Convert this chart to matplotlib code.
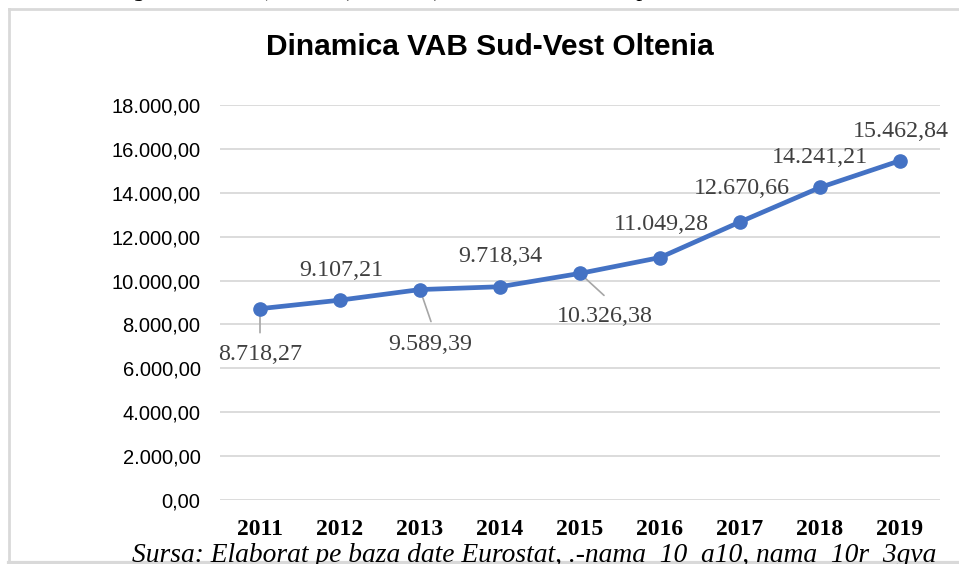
import matplotlib
matplotlib.use("Agg")
import matplotlib.pyplot as plt
from matplotlib.lines import Line2D

years = ["2011", "2012", "2013", "2014", "2015", "2016", "2017", "2018", "2019"]
values = [8718.27, 9107.21, 9589.39, 9718.34, 10326.38, 11049.28, 12670.66, 14241.21, 15462.84]
value_labels = ["8.718,27", "9.107,21", "9.589,39", "9.718,34", "10.326,38",
                "11.049,28", "12.670,66", "14.241,21", "15.462,84"]
ytick_vals = [0, 2000, 4000, 6000, 8000, 10000, 12000, 14000, 16000, 18000]
ytick_labels = ["0,00", "2.000,00", "4.000,00", "6.000,00", "8.000,00",
                "10.000,00", "12.000,00", "14.000,00", "16.000,00", "18.000,00"]

W, H = 959, 564
fig = plt.figure(figsize=(W / 100, H / 100), dpi=100)
fig.patch.set_facecolor("white")

# chart border (light gray)
fig.add_artist(Line2D([9 / W, 9 / W], [0, 1 - 9 / H], transform=fig.transFigure,
                      color="#d9d9d9", lw=2))
fig.add_artist(Line2D([9 / W, 1], [1 - 9 / H, 1 - 9 / H], transform=fig.transFigure,
                      color="#d9d9d9", lw=2))
fig.add_artist(Line2D([9 / W, 1], [1.5 / H, 1.5 / H], transform=fig.transFigure,
                      color="#d9d9d9", lw=3))

ax = fig.add_axes([220 / W, (H - 500) / H, 720 / W, 395 / H])
ax.set_xlim(-0.5, len(years) - 0.5)
ax.set_ylim(0, 18000)
for s in ax.spines.values():
    s.set_visible(False)
ax.set_yticks(ytick_vals)
ax.set_yticklabels(ytick_labels, fontsize=14.5, family="Liberation Sans", color="#000000")
ax.tick_params(axis="y", length=0, pad=14)
ax.set_xticks(range(len(years)))
ax.set_xticklabels(years, fontsize=17, family="Liberation Serif", fontweight="bold")
ax.tick_params(axis="x", length=0, pad=14)
ax.grid(axis="y", color="#d9d9d9", lw=1.3)
ax.set_axisbelow(True)

x = list(range(len(years)))
ax.plot(x, values, color="#4472C4", lw=3.4, marker="o", markersize=9.5, zorder=3)

# label offsets in pixels (dx, dy) and leader line end points
offsets = [(0, -46), (1, 30), (10, -55), (0, 30), (25, -43), (1, 33), (2, 33), (0, 30), (1, 29)]
leaders = [(0, -24), None, (11, -32), None, (24, -22), None, None, None, None]
for i, (v, lab) in enumerate(zip(values, value_labels)):
    dx, dy = offsets[i]
    ax.annotate(lab, (i, v), xytext=(dx, dy), textcoords="offset pixels",
                ha="center", va="center", fontsize=17.3, family="Liberation Serif",
                color="#404040", zorder=4)
    if leaders[i] is not None:
        lx, ly = leaders[i]
        ax.annotate("", (i, v), xytext=(lx, ly), textcoords="offset pixels",
                    arrowprops=dict(arrowstyle="-", color="#a6a6a6", lw=1.2,
                                    shrinkA=0, shrinkB=0), zorder=2)

fig.text(490 / W, 1 - 47 / H, "Dinamica VAB Sud-Vest Oltenia", ha="center", va="center",
         fontsize=21.5, fontweight="bold", family="Liberation Sans", color="#000000")

fig.text(543 / W, 1 + 4 / H,
         "Figura 2. Evoluția VAB (mil. euro) Sud-Vest Oltenia în perioada 2011-2019, total sectoare",
         ha="center", va="baseline", fontsize=17, family="Liberation Serif", style="italic",
         color="#000000")

fig.text(534 / W, 1 - 543 / H,
         "Sursa: Elaborat pe baza date Eurostat, .-nama_10_a10, nama_10r_3gva",
         ha="center", va="top", fontsize=19.8, family="Liberation Serif", style="italic",
         color="#000000")

fig.savefig("out.png", dpi=100, facecolor="white")
